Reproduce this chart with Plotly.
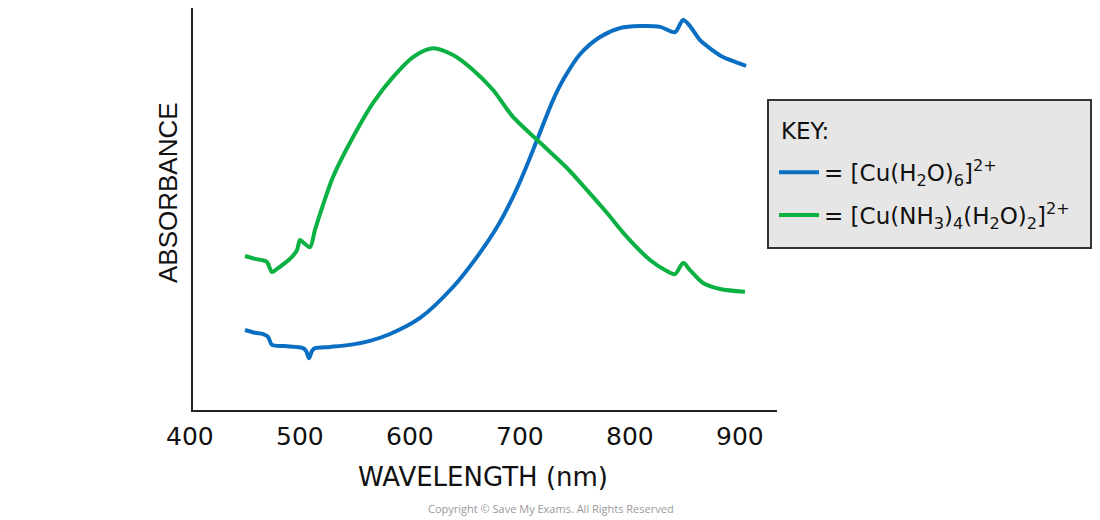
import plotly.graph_objects as go

# Wavelength (nm) and absorbance (arbitrary units, 0-1)
blue_nm = [450.0, 459.1, 466.4, 470.9, 474.5, 486.4, 502.7, 505.5, 508.2, 510.9, 513.6,
           527.3, 545.5, 563.6, 581.8, 609.1, 639.1, 660.9, 679.1, 693.6, 704.5, 715.5,
           730.0, 740.0, 754.5, 772.7, 790.9, 809.1, 827.3, 840.9, 848.2, 854.5, 863.6,
           874.5, 884.5, 895.5, 905.5]
blue_abs = [0.199, 0.192, 0.189, 0.182, 0.162, 0.159, 0.154, 0.147, 0.129, 0.147, 0.154,
            0.157, 0.162, 0.172, 0.189, 0.229, 0.306, 0.381, 0.455, 0.530, 0.597, 0.672,
            0.771, 0.825, 0.885, 0.928, 0.950, 0.955, 0.953, 0.940, 0.970, 0.955, 0.920,
            0.896, 0.878, 0.866, 0.856]

green_nm = [450.0, 459.1, 465.5, 470.0, 474.5, 479.1, 486.4, 492.7, 497.3, 500.0, 504.5,
            509.1, 513.6, 520.9, 530.0, 548.2, 566.4, 584.5, 602.7, 620.9, 639.1, 657.3,
            675.5, 693.6, 715.5, 727.3, 742.7, 760.9, 779.1, 797.3, 818.2, 831.8, 840.9,
            848.2, 854.5, 866.4, 881.8, 904.5]
green_abs = [0.383, 0.376, 0.373, 0.368, 0.343, 0.351, 0.366, 0.381, 0.398, 0.423, 0.413,
             0.405, 0.448, 0.510, 0.580, 0.679, 0.764, 0.828, 0.878, 0.900, 0.883, 0.846,
             0.796, 0.729, 0.672, 0.642, 0.602, 0.547, 0.490, 0.430, 0.373, 0.348, 0.338,
             0.366, 0.348, 0.316, 0.301, 0.294]

x_ticks = [400, 500, 600, 700, 800, 900]
x_range = [402.7, 933.6]
blue_name = "= [Cu(H<sub>2</sub>O)<sub>6</sub>]<sup>2+</sup>"
green_name = "= [Cu(NH<sub>3</sub>)<sub>4</sub>(H<sub>2</sub>O)<sub>2</sub>]<sup>2+</sup>"

BLUE = "#0a6fc2"
GREEN = "#0cb143"

fig = go.Figure()
fig.add_trace(go.Scatter(x=blue_nm, y=blue_abs, mode="lines", name=blue_name, legendgroup="a",
                         line=dict(color=BLUE, width=4, shape="spline", smoothing=0.8)))
fig.add_trace(go.Scatter(x=green_nm, y=green_abs, mode="lines", name=green_name, legendgroup="b",
                         line=dict(color=GREEN, width=4, shape="spline", smoothing=0.8)))

tick_font = dict(family="DejaVu Sans", size=25, color="#111")
annotations = []
for t in x_ticks:
    annotations.append(dict(x=(t - x_range[0]) / (x_range[1] - x_range[0]), xref="paper",
                            y=-0.067, yref="paper", text=str(t),
                            showarrow=False, font=tick_font, xanchor="center", yanchor="middle"))
annotations.append(dict(x=0.4966, xref="paper", y=-0.167, yref="paper", text="WAVELENGTH (nm)",
                        showarrow=False, font=dict(family="DejaVu Sans", size=26, color="#111"),
                        xanchor="center", yanchor="middle"))
annotations.append(dict(x=-0.043, xref="paper", y=0.542, yref="paper", text="ABSORBANCE",
                        textangle=-90, showarrow=False,
                        font=dict(family="Liberation Sans", size=26, color="#111"),
                        xanchor="center", yanchor="middle"))
annotations.append(dict(x=0.613, xref="paper", y=-0.244, yref="paper",
                        text="Copyright © Save My Exams. All Rights Reserved",
                        showarrow=False, font=dict(family="Open Sans", size=11, color="#9a9a9a"),
                        xanchor="center", yanchor="middle"))
annotations.append(dict(x=1.0034, xref="paper", y=0.694, yref="paper", text="KEY:",
                        showarrow=False, font=dict(family="DejaVu Sans", size=23, color="#111"),
                        xanchor="left", yanchor="middle"))

fig.add_shape(type="rect", xref="paper", yref="paper", x0=0.9846, x1=1.5377, y0=0.403, y1=0.7711,
              fillcolor="#e6e6e6", line=dict(color="#333", width=2), layer="below")

fig.update_layout(
    width=1100, height=520,
    margin=dict(l=185, r=331, t=0, b=118),
    paper_bgcolor="white", plot_bgcolor="white",
    showlegend=True,
    legend=dict(x=0.9949, y=0.645, xanchor="left", yanchor="top",
                bgcolor="rgba(0,0,0,0)", borderwidth=0,
                font=dict(family="DejaVu Sans", size=23, color="#111"),
                itemwidth=40, tracegroupgap=10),
    xaxis=dict(range=x_range, showgrid=False, zeroline=False, showticklabels=False,
               ticks="", showline=True, linecolor="#222", linewidth=2),
    yaxis=dict(range=[0, 1.0], showgrid=False, zeroline=False, showticklabels=False,
               ticks="", showline=True, linecolor="#222", linewidth=2),
    annotations=annotations,
)

fig.write_html("out.html")
